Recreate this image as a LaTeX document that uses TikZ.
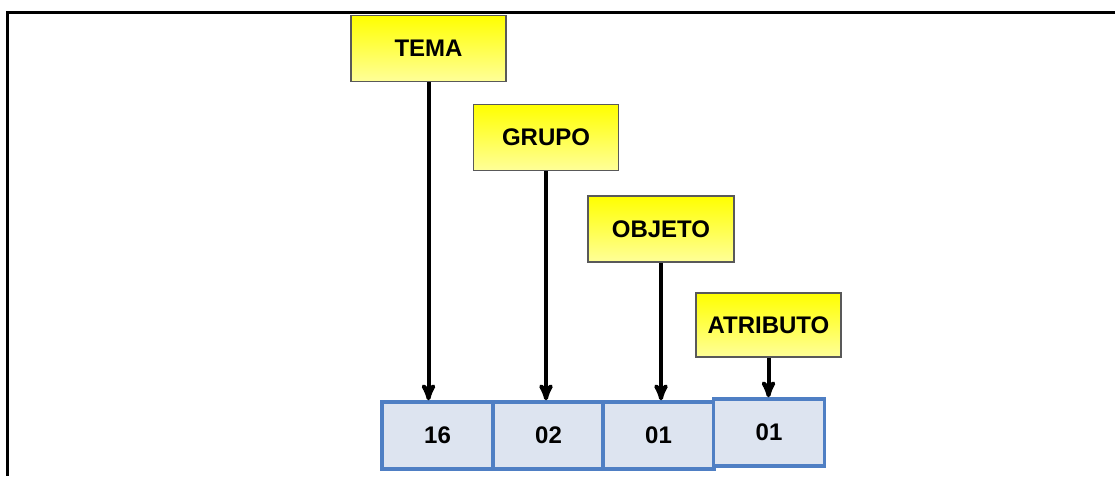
\documentclass[tikz,border=0pt]{standalone}
\usepackage{fontspec}
\setmainfont{Liberation Sans}
\usetikzlibrary{arrows}
\definecolor{cellblue}{HTML}{4F7FC4}
\definecolor{cellfill}{HTML}{DDE4F0}
\tikzset{
 label box/.style={draw=black!65, line width=1.5pt, top color=yellow, bottom color=yellow!40,
   minimum height=66, inner sep=0, font=\fontsize{24}{27}\selectfont\bfseries},
 cell/.style={draw=cellblue, line width=3.5pt, fill=cellfill, minimum width=111, minimum height=67,
   inner sep=0, font=\fontsize{24}{27}\selectfont\bfseries},
 pointer/.style={black, line width=4pt, ->, >=stealth'}
}
\begin{document}
\begin{tikzpicture}[x=1pt, y=-1pt]
\useasboundingbox (0,0) rectangle (1115,476);
\draw[black, line width=3pt] (1115,13) -- (7,13) -- (7,476);
% code cells
\node[cell] (c1) at (437.5,435.5) {16};
\node[cell] (c2) at (548.5,435.5) {02};
\node[cell] (c3) at (658.5,435.5) {01};
\node[cell] (c4) at (769,432.5) {01};
% labels
\node[label box, minimum width=155] (tema) at (428.5,48.5) {TEMA};
\node[label box, minimum width=145] (grupo) at (546,137.5) {GRUPO};
\node[label box, minimum width=146] (objeto) at (661,229) {OBJETO};
\node[label box, minimum width=145, minimum height=64] (atributo) at (768.5,325) {ATRIBUTO};
\draw[pointer] (tema.south) -- (tema.south |- c1.north);
\draw[pointer] (grupo.south) -- (grupo.south |- c2.north);
\draw[pointer] (objeto.south) -- (objeto.south |- c3.north);
\draw[pointer] (atributo.south) -- (atributo.south |- c4.north);
\end{tikzpicture}
\end{document}
